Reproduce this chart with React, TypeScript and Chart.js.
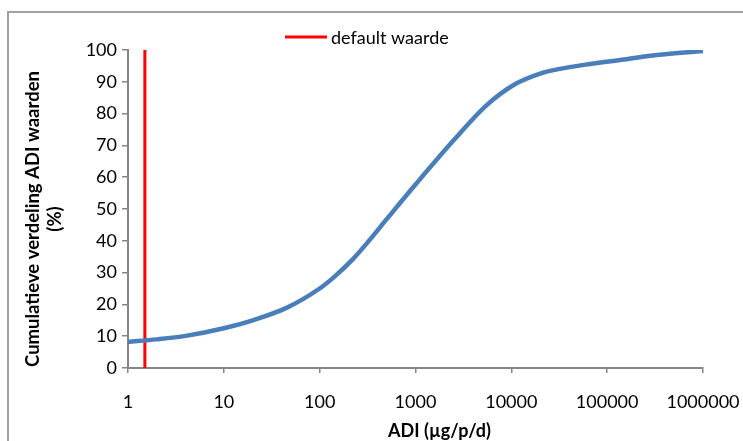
import React, { useEffect, useRef } from "react";
import { Chart, registerables } from "chart.js";

Chart.register(...registerables);

const adiValues = [1, 2, 4, 10, 20, 45, 100, 140, 225, 310, 500, 1000, 2500, 5500, 11000, 20000, 30000, 66000, 150000, 330000, 1000000];
const cumulativePct = [8.2, 9.0, 10.1, 12.5, 15.0, 18.9, 25.0, 28.5, 34.4, 39.2, 46.8, 57.7, 71.6, 82.6, 89.3, 92.6, 93.9, 95.6, 97.0, 98.4, 99.7];

const defaultX = [1.5, 1.5];
const defaultY = [0, 100];

const xTickValues = [1, 10, 100, 1000, 10000, 100000, 1000000];
const yTickValues = [0, 10, 20, 30, 40, 50, 60, 70, 80, 90, 100];

const seriesLabel = "Cumulatieve verdeling";
const defaultLabel = "default waarde";
const yTitleLines = ["Cumulatieve verdeling ADI waarden", "(%)"];
const xTitle = "ADI (µg/p/d)";

const FONT = "Lato, 'Liberation Sans', sans-serif";
const AXIS_GRAY = "#868686";

const overlayPlugin = {
  id: "overlay",
  afterDraw(chart: any) {
    const ctx = chart.ctx;
    const area = chart.chartArea;
    ctx.save();
    // legend
    const ds = chart.data.datasets[1];
    ctx.strokeStyle = ds.borderColor;
    ctx.lineWidth = 3;
    ctx.beginPath();
    ctx.moveTo(285, 37);
    ctx.lineTo(327, 37);
    ctx.stroke();
    ctx.fillStyle = "#000";
    ctx.font = `18px ${FONT}`;
    ctx.textAlign = "left";
    ctx.textBaseline = "middle";
    ctx.fillText(ds.label, 331, 38);
    // x title
    ctx.font = `bold 18px ${FONT}`;
    ctx.textAlign = "center";
    ctx.fillText(xTitle, (area.left + area.right) / 2 + 24, 431);
    // y title
    ctx.font = `bold 18.5px ${FONT}`;
    ctx.translate(33, (area.top + area.bottom) / 2 + 10);
    ctx.rotate(-Math.PI / 2);
    yTitleLines.forEach((line, i) => ctx.fillText(line, 0, i * 22));
    ctx.restore();
  },
};

export default function App() {
  const canvasRef = useRef<HTMLCanvasElement | null>(null);

  useEffect(() => {
    const canvas = canvasRef.current;
    if (!canvas) return;
    const chart = new Chart(canvas, {
      type: "line",
      data: {
        datasets: [
          {
            label: seriesLabel,
            data: adiValues.map((x, i) => ({ x, y: cumulativePct[i] })),
            borderColor: "#4A7EBB",
            backgroundColor: "#4A7EBB",
            borderWidth: 4.5,
            pointRadius: 0,
            cubicInterpolationMode: "monotone",
            borderCapStyle: "round",
            borderJoinStyle: "round",
            fill: false,
          },
          {
            label: defaultLabel,
            data: defaultX.map((x, i) => ({ x, y: defaultY[i] })),
            borderColor: "#FF0000",
            backgroundColor: "#FF0000",
            borderWidth: 3,
            pointRadius: 0,
            fill: false,
          },
        ],
      },
      options: {
        responsive: false,
        animation: false,
        layout: { padding: { left: 0, top: 50, right: 40, bottom: 0 } },
        plugins: {
          legend: { display: false },
          tooltip: { enabled: false },
        },
        scales: {
          x: {
            type: "logarithmic",
            min: 1,
            max: 1000000,
            afterBuildTicks: (scale: any) => {
              scale.ticks = xTickValues.map((v) => ({ value: v }));
            },
            afterFit: (scale: any) => {
              scale.height = 441 - 368;
              scale.paddingLeft = 0;
              scale.paddingRight = 0;
            },
            ticks: {
              autoSkip: false,
              maxRotation: 0,
              color: "#000",
              padding: 18,
              font: { family: FONT, size: 18 },
              callback: (v: any) => String(v),
            },
            grid: {
              display: true,
              drawOnChartArea: false,
              drawTicks: true,
              tickLength: 5,
              color: AXIS_GRAY,
              lineWidth: 1.5,
            },
            border: { display: true, color: AXIS_GRAY, width: 2 },
          },
          y: {
            type: "linear",
            min: 0,
            max: 100,
            afterBuildTicks: (scale: any) => {
              scale.ticks = yTickValues.map((v) => ({ value: v }));
            },
            afterFit: (scale: any) => {
              scale.width = 128;
              scale.paddingTop = 0;
              scale.paddingBottom = 0;
            },
            ticks: {
              color: "#000",
              padding: 5,
              font: { family: FONT, size: 18 },
              callback: (v: any) => String(v),
            },
            grid: {
              display: true,
              drawOnChartArea: false,
              drawTicks: true,
              tickLength: 6,
              color: AXIS_GRAY,
              lineWidth: 1.5,
            },
            border: { display: true, color: AXIS_GRAY, width: 2 },
          },
        },
      },
      plugins: [overlayPlugin],
    } as any);
    return () => chart.destroy();
  }, []);

  return (
    <div style={{ position: "fixed", left: 0, top: 0, width: 743, height: 441, overflow: "hidden", background: "#fff" }}>
      <div
        style={{
          position: "absolute",
          left: 7,
          top: 11,
          width: 800,
          height: 500,
          border: "2px solid #a0a0a0",
          boxSizing: "border-box",
        }}
      />
      <canvas ref={canvasRef} width={743} height={441} style={{ position: "absolute", left: 0, top: 0 }} />
    </div>
  );
}
